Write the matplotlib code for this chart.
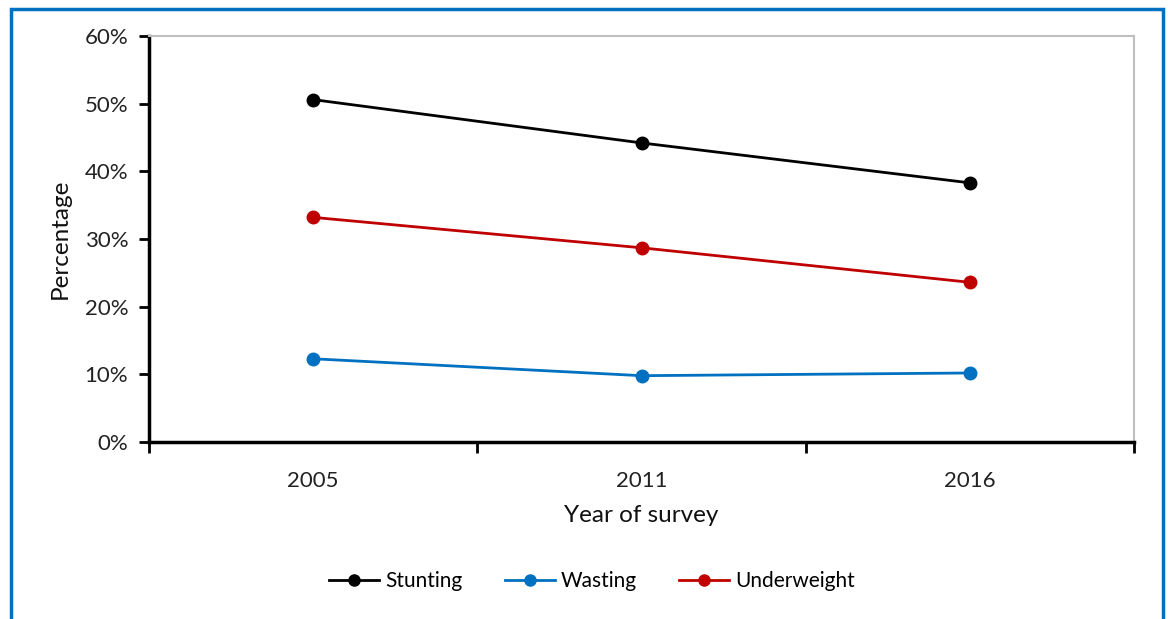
import matplotlib
matplotlib.use("Agg")
import matplotlib.pyplot as plt
from matplotlib.lines import Line2D
from matplotlib.patches import Rectangle

years = ["2005", "2011", "2016"]
stunting = [50.6, 44.2, 38.3]
wasting = [12.3, 9.8, 10.2]
underweight = [33.2, 28.7, 23.6]
yticks = [0, 10, 20, 30, 40, 50, 60]

plt.rcParams['font.family'] = ['Lato', 'DejaVu Sans']

W, H = 1168, 619
fig = plt.figure(figsize=(W/100, H/100), dpi=100)
ax = fig.add_axes([149/W, 1-442/H, (1134-149)/W, (442-36)/H])

x = [i + 0.5 for i in range(len(years))]
series = [("Stunting", stunting, "#000000"),
          ("Wasting", wasting, "#0070C0"),
          ("Underweight", underweight, "#C00000")]
for name, vals, col in series:
    ax.plot(x, vals, color=col, lw=2, marker='o', ms=9, label=name, clip_on=False)

ax.set_xlim(0, len(years))
ax.set_ylim(0, 60)
ax.set_yticks(yticks)
ax.set_yticklabels([f"{v}%" for v in yticks])
ax.set_xticks(x)
ax.set_xticklabels(years)
ax.set_xticks(range(len(years) + 1), minor=True)
ax.tick_params(axis='x', which='major', length=0, pad=21, labelsize=16, colors='#222222')
ax.tick_params(axis='x', which='minor', length=8, width=2, direction='out', color='black')
ax.tick_params(axis='y', length=7, width=2, direction='out', pad=8, labelsize=16, labelcolor='#222222')

for s in ['left', 'bottom']:
    ax.spines[s].set_linewidth(2.5)
    ax.spines[s].set_color('black')
for s in ['top', 'right']:
    ax.spines[s].set_linewidth(1.5)
    ax.spines[s].set_color('#BFBFBF')

ax.set_ylabel("Percentage", fontsize=17.5, color='#111111', labelpad=10)
ax.set_xlabel("Year of survey", fontsize=17.5, color='#111111', labelpad=10)

handles = [Line2D([0], [0], color=c, lw=2, marker='o', ms=8) for _, _, c in series]
fig.legend(handles, [n for n, _, _ in series], loc='center', bbox_to_anchor=(592/W, 1-581/H),
           ncol=3, frameon=False, fontsize=15, handlelength=2.4, handletextpad=0.3, columnspacing=2.0)

fig.patches.append(Rectangle((11/W, -0.05), (1163-11)/W, 1.05 - 9/H, transform=fig.transFigure,
                             fill=False, edgecolor='#0070C0', lw=2.5))

fig.savefig("out.png", dpi=100)
